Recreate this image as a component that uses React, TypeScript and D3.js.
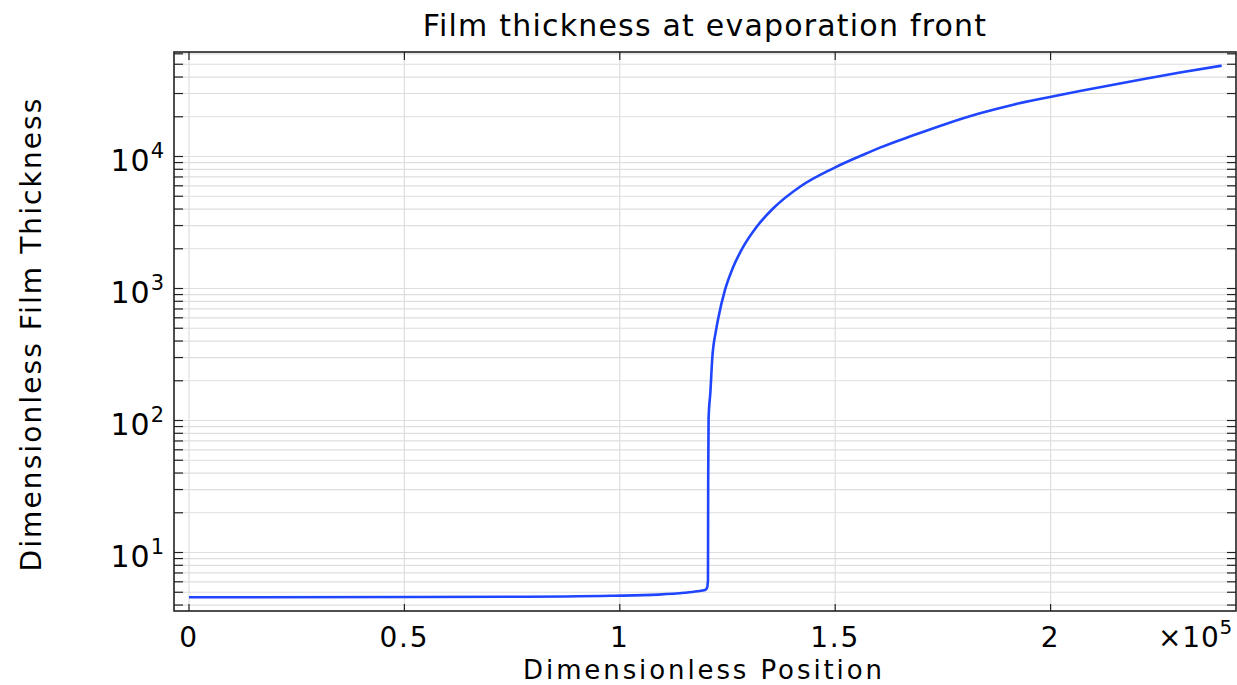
import React from "react";
import * as d3 from "d3";

// curve (x: dimensionless position, y: film thickness)
const positions = [
  0, 75000, 98000, 109000, 115000, 118000, 119800, 120240, 120470, 120520,
  120610, 121030, 121470, 122310, 122870, 124420, 126350, 128670, 131780,
  135630, 141830, 149560, 157310, 160400, 168130, 175880, 183610, 191340,
  199860, 206820, 214560, 222310, 230040, 239720,
];
const thickness = [
  4.58, 4.62, 4.7, 4.8, 4.95, 5.08, 5.2, 5.38, 6.19, 35.4,
  102.6, 164.4, 297.5, 476, 598, 975, 1462, 2073, 2939,
  4053, 5906, 8140, 10573, 11667, 14470, 17730, 21230, 24700,
  28240, 31340, 35010, 38990, 43290, 48760,
];

const xTicks = [0, 50000, 100000, 150000, 200000];
const xTickLabels = ["0", "0.5", "1", "1.5", "2"];
const yMajor = [10, 100, 1000, 10000];
const yMajorExp = ["1", "2", "3", "4"];

const title = "Film thickness at evaporation front";
const xLabel = "Dimensionless Position";
const yLabel = "Dimensionless Film Thickness";

const W = 1237;
const H = 685;
const left = 174, right = 1236, top = 52, bottom = 611;
const font = "'DejaVu Sans', sans-serif";

export default function App() {
  const x = d3.scaleLinear().domain([-3482, 243040]).range([left, right]);
  const y = d3.scaleLog().domain([3.605, 61900]).range([bottom, top]);

  // minor log ticks inside the domain
  const yMinor: number[] = [];
  for (let e = 0; e <= 4; e++) {
    for (let m = 1; m <= 9; m++) {
      const v = m * Math.pow(10, e);
      if (v >= 3.605 && v <= 61900) yMinor.push(v);
    }
  }

  const line = d3
    .line<number>()
    .x((_, i) => x(positions[i]))
    .y((d) => y(d))
    .curve(d3.curveMonotoneX);

  const grid = "#dedede";
  const axis = "#222";

  return (
    <svg width={W} height={H} style={{ position: "absolute", left: 0, top: 0, background: "#fff" }}>
      {/* grid */}
      {yMinor.map((v) => (
        <line key={"gy" + v} x1={left} x2={right} y1={y(v)} y2={y(v)} stroke={grid} strokeWidth={1.2} />
      ))}
      {xTicks.map((v) => (
        <line key={"gx" + v} x1={x(v)} x2={x(v)} y1={top} y2={bottom} stroke={grid} strokeWidth={1.2} />
      ))}

      {/* data */}
      <path d={line(thickness) || ""} fill="none" stroke="#1f45ff" strokeWidth={2.6} strokeLinejoin="round" />

      {/* ticks */}
      {yMinor.map((v) => (
        <g key={"ty" + v}>
          <line x1={left} x2={left + 9} y1={y(v)} y2={y(v)} stroke={axis} strokeWidth={1.2} />
          <line x1={right - 9} x2={right} y1={y(v)} y2={y(v)} stroke={axis} strokeWidth={1.2} />
        </g>
      ))}
      {xTicks.map((v) => (
        <g key={"tx" + v}>
          <line x1={x(v)} x2={x(v)} y1={bottom} y2={bottom - 7} stroke={axis} strokeWidth={1.2} />
          <line x1={x(v)} x2={x(v)} y1={top} y2={top + 8} stroke={axis} strokeWidth={1.2} />
        </g>
      ))}

      {/* frame */}
      <rect x={left} y={top} width={right - left} height={bottom - top} fill="none" stroke={axis} strokeWidth={1.6} />

      {/* tick labels */}
      {xTicks.map((v, i) => (
        <text key={"lx" + v} x={x(v)} y={647} textAnchor="middle" fontFamily={font} fontSize={28} letterSpacing={1.8} fill="#000">
          {xTickLabels[i]}
        </text>
      ))}
      <text x={1158} y={647} fontFamily={font} fontSize={28} letterSpacing={0.8} fill="#000">
        ×10<tspan fontSize={20} dy={-13}>5</tspan>
      </text>
      {yMajor.map((v, i) => (
        <text key={"ly" + v} x={165} y={y(v) + 14} textAnchor="end" fontFamily={font} fontSize={30} letterSpacing={1} fill="#000">
          10<tspan fontSize={21} dy={-13}>{yMajorExp[i]}</tspan>
        </text>
      ))}

      {/* labels */}
      <text x={(left + right) / 2} y={36} textAnchor="middle" fontFamily={font} fontSize={30} letterSpacing={1.2} fill="#000">
        {title}
      </text>
      <text x={704} y={679} textAnchor="middle" fontFamily={font} fontSize={26} letterSpacing={2.9} fill="#000">
        {xLabel}
      </text>
      <text transform={`translate(41,334) rotate(-90)`} textAnchor="middle" fontFamily={font} fontSize={28} letterSpacing={2.1} fill="#000">
        {yLabel}
      </text>
    </svg>
  );
}
